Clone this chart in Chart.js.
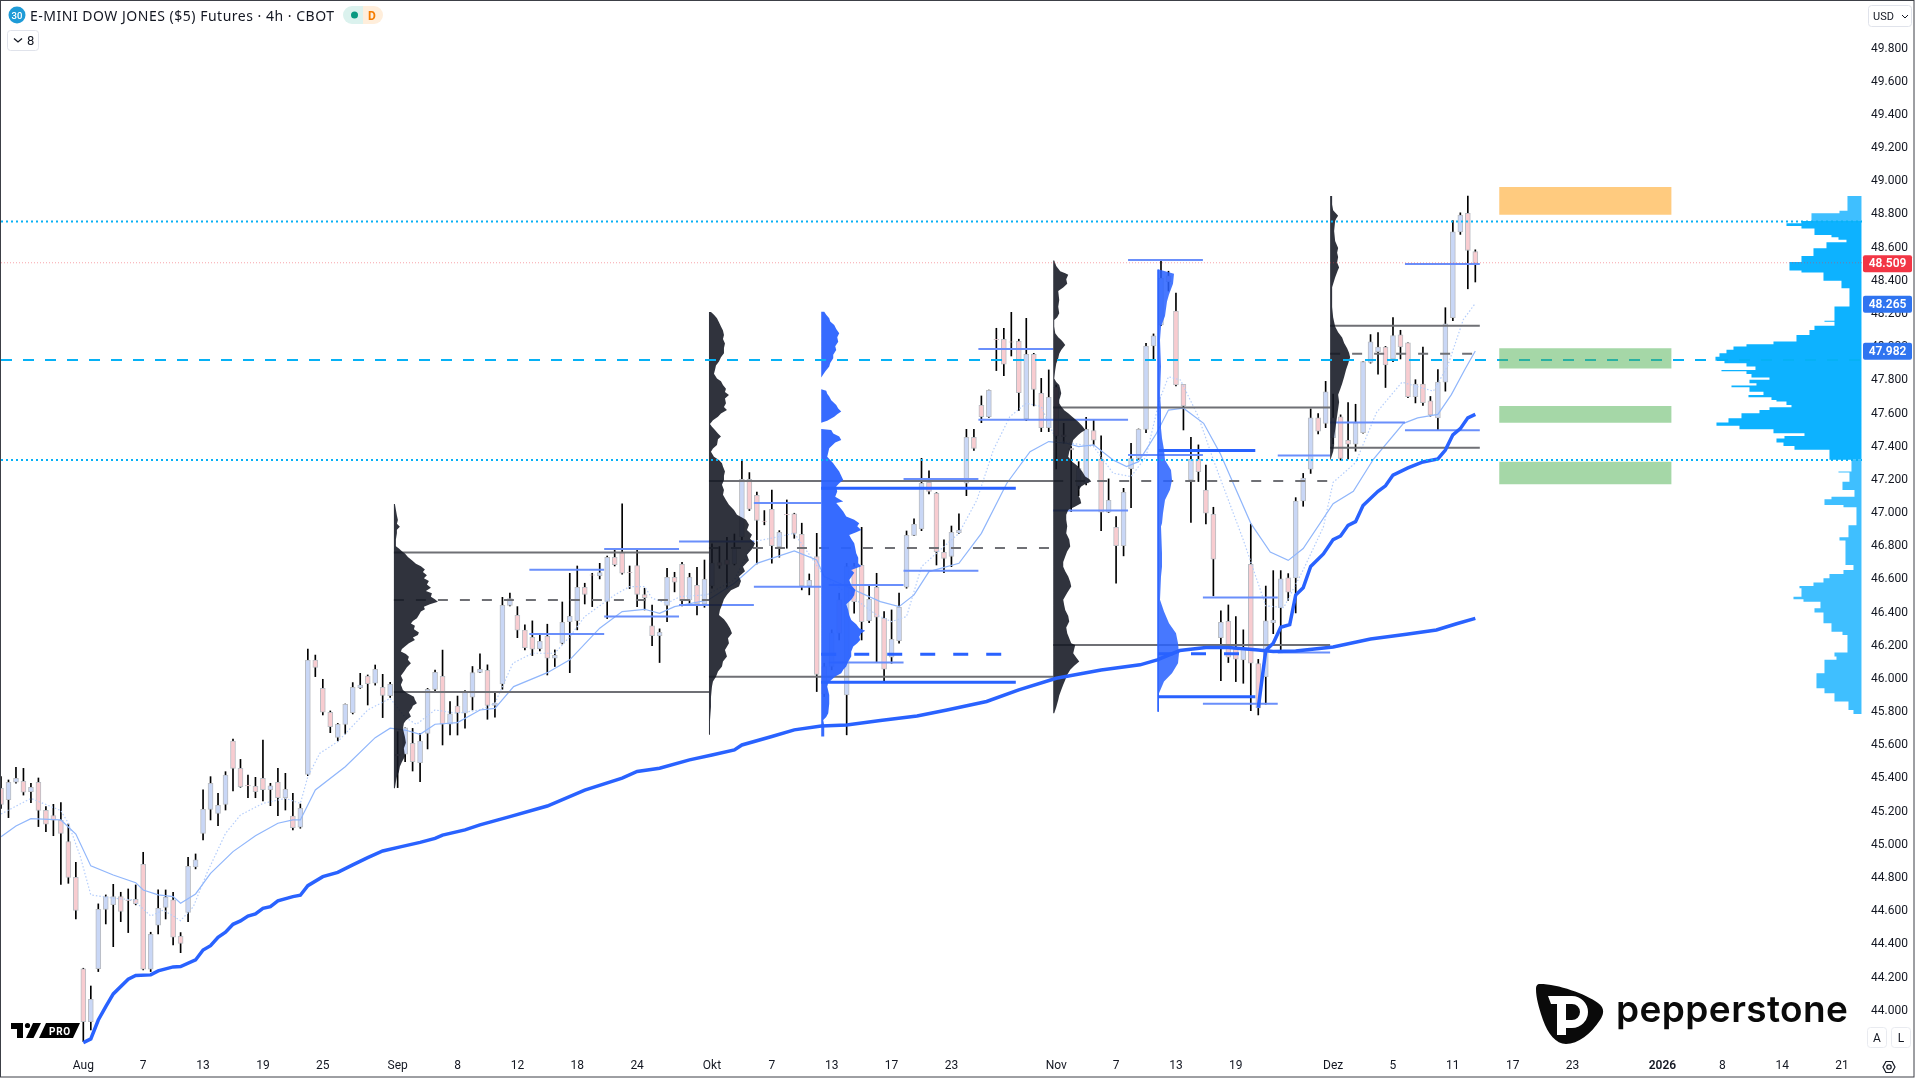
<!DOCTYPE html>
<html>
<head>
<meta charset="utf-8">
<title>E-MINI DOW JONES ($5) Futures</title>
<script src="https://cdn.jsdelivr.net/npm/chart.js@4/dist/chart.umd.min.js"></script>
<style>
html, body { margin: 0; padding: 0; background: #fff; }
#wrap { position: relative; width: 1915px; height: 1079px; overflow: hidden; }
#wrap canvas { position: absolute; left: 0; top: 0; }
#overlay { position: absolute; left: 0; top: 0; pointer-events: none; font-family: Roboto, sans-serif; }
</style>
</head>
<body>
<div id="wrap">
<canvas id="chart" width="1915" height="1079"></canvas>
<svg id="overlay" width="1915" height="1079" viewBox="0 0 1915 1079">
  <rect x="0.5" y="0.5" width="1913.5" height="1076.5" fill="none" stroke="#3c3f46"/>
  <!-- header -->
  <circle cx="17" cy="15" r="8.5" fill="#1e9bd7"/>
  <text x="17" y="18.5" font-size="9.5" font-weight="500" fill="#fff" text-anchor="middle">30</text>
  <text x="30" y="20.5" font-size="14" fill="#131722" textLength="304" font-family="'Noto Sans', sans-serif">E-MINI DOW JONES ($5) Futures · 4h · CBOT</text>
  <path d="M352 6H363V24H352A9 9 0 0 1 352 6Z" fill="#dbf2ee"/>
  <path d="M363 6H374A9 9 0 0 1 374 24H363Z" fill="#ffeedb"/>
  <circle cx="354.5" cy="15" r="3.5" fill="#089981"/>
  <text x="372" y="19.5" font-size="12" font-weight="700" fill="#f57c00" text-anchor="middle">D</text>
  <rect x="7.5" y="30.5" width="31" height="20" rx="3" fill="#fff" stroke="#e0e3eb"/>
  <path d="M14 38.5L18 42L22 38.5" fill="none" stroke="#131722" stroke-width="1.3"/>
  <text x="27" y="45" font-size="13" fill="#131722">8</text>
  <rect x="1868.5" y="5.5" width="43" height="21" rx="3" fill="#fff" stroke="#e0e3eb"/>
  <text x="1873" y="20" font-size="11" fill="#131722">USD</text>
  <path d="M1902 15L1905 18L1908 15" fill="none" stroke="#131722"/>
  <!-- tradingview pro mark -->
  <path d="M11 1023H23V1038H17V1029H11Z" fill="#000"/>
  <circle cx="27.5" cy="1025.5" r="2.6" fill="#000"/>
  <path d="M33 1023H41L33.5 1038H26Z" fill="#000"/>
  <path d="M46 1023H80L73 1038H39Z" fill="#000"/>
  <text x="60" y="1034.5" font-size="10" font-weight="700" letter-spacing="0.8" fill="#fff" text-anchor="middle">PRO</text>
  <!-- pepperstone -->
  <g transform="translate(1536 984)">
    <path d="M4 0C22 0 50 10 62 19C69 24 68 30 64 36C55 50 42 60 30 60C20 60 12 50 7 36C3 24 0 14 0 5C0 2 1 0 4 0Z" fill="#0a0a0a"/>
    <path fill-rule="evenodd" d="M12 12H36A16 16 0 0 1 36 44H30V51H21V20H15ZM30 20H36A8 8 0 0 1 36 36H30Z" fill="#fff"/>
  </g>
  <text x="1616" y="1022" font-family="Inter, sans-serif" font-weight="600" font-size="37" fill="#0a0a0a" textLength="232">pepperstone</text>
  <!-- scale buttons -->
  <rect x="1867.5" y="1027.5" width="19" height="20" rx="3" fill="#fff" stroke="#e9ebf0"/>
  <text x="1877" y="1042" font-size="12" fill="#131722" text-anchor="middle">A</text>
  <rect x="1891.5" y="1027.5" width="19" height="20" rx="3" fill="#fff" stroke="#e9ebf0"/>
  <text x="1901" y="1042" font-size="12" fill="#131722" text-anchor="middle">L</text>
  <path d="M1883 1067L1886 1061.5H1892L1895 1067L1892 1072.5H1886Z" fill="none" stroke="#131722" stroke-width="1.2"/>
  <circle cx="1889" cy="1067" r="2.2" fill="none" stroke="#131722" stroke-width="1.2"/>
</svg>
</div>
<script>
// ─── Candles, 4h bars, first bar is index -11 (Aug = 0) ───
const firstBar = -11;
const openPrices = [
  45341,45272,45377,45383,45321,45377,45208,45176,45148,45019,44804,
  44252,43934,44254,44611,44640,44688,44668,44672,44883,44250,
  44515,44623,44668,44449,44593,44867,45069,45214,45190,45244,
  45626,45461,45359,45353,45401,45333,45377,45284,45174,45106,
  45425,46114,45943,45799,45648,45726,45797,45947,46018,45974,
  45949,45899,45546,45546,45612,45495,45672,45937,46016,45728,
  45837,45793,45890,46040,46052,45840,45970,46444,46384,46294,
  46251,46183,46257,46125,46215,46346,46352,46553,46627,46623,
  46468,46733,46762,46643,46683,46509,46320,46261,46444,46613,
  46691,46476,46565,46452,46561,46702,46718,46693,46858,47204,
  47107,46951,47023,46798,46993,46995,46872,46561,46738,46075,
  46075,46477,45904,46677,46685,46352,46553,46366,46131,46231,
  46553,46866,46904,47186,47119,46764,46738,46882,47180,47457,
  47650,47581,48048,48048,48033,48035,47567,47957,47722,47515,
  47758,47471,47391,47164,47180,47497,47324,47005,46914,46804,
  47268,47330,47505,48007,48134,48430,48218,47776,47200,47324,
  47139,46993,46249,46348,46179,46115,46691,46092,46014,46340,
  46430,46609,46609,47073,47265,47574,47541,47455,47580,47438,
  47416,47485,47908,47973,48000,47929,48074,48027,47701,47778,
  47677,47574,47789,48178,48695,48807,48577
];
const highPrices = [
  45411,45391,45467,45461,45371,45403,45230,45244,45254,45126,44895,
  44256,44149,44644,44698,44762,44714,44734,44758,44955,44473,
  44728,44728,44714,44471,44925,44945,45331,45411,45311,45441,
  45638,45515,45421,45407,45632,45371,45461,45431,45311,45246,
  46180,46144,45998,45807,45732,45849,45978,46034,46024,46084,
  46028,45980,45682,45706,45702,45672,45943,46054,46174,45863,
  45897,45930,46075,46151,46085,45914,46492,46517,46436,46326,
  46350,46271,46330,46175,46464,46637,46681,46577,46637,46697,
  46741,46782,47055,46681,46788,46547,46446,46302,46667,46643,
  46703,46637,46673,46717,46814,46798,46854,46874,47324,47244,
  47127,47015,47139,46894,47079,46999,46939,46633,46878,46095,
  46296,46517,46697,46697,46914,46567,46637,46406,46416,46517,
  46892,46965,47330,47254,47123,46838,46922,46995,47505,47505,
  47706,47742,48114,48114,48210,48048,48174,47963,47812,47863,
  47772,47541,47401,47310,47577,47561,47465,47206,46979,47149,
  47421,47507,48023,48080,48523,48458,48326,47776,47457,47411,
  47290,47035,46410,46446,46376,46296,46934,46118,46560,46653,
  46653,46635,47093,47239,47628,47600,47794,47718,47592,47666,
  47656,47914,48076,48088,48005,48178,48102,48027,47804,48000,
  47703,47865,48238,48764,48810,48911,48587
];
const lowPrices = [
  45220,45164,45371,45300,45254,45110,45080,45055,44762,44768,44553,
  43814,43884,44236,44523,44386,44537,44471,44638,44246,44236,
  44463,44553,44396,44350,44537,44855,45029,45150,45116,45210,
  45325,45347,45284,45284,45264,45236,45176,45210,45090,45100,
  45417,46014,45783,45676,45626,45668,45789,45943,45843,45963,
  45767,45889,45345,45501,45445,45381,45578,45917,45602,45662,
  45662,45703,45813,46038,45757,45769,45938,46440,46249,46175,
  46141,46169,46024,46075,46211,46038,46296,46452,46436,46603,
  46364,46681,46631,46545,46436,46416,46201,46099,46346,46525,
  46440,46446,46386,46432,46547,46667,46547,46687,46838,47015,
  46693,46929,46698,46734,46788,46848,46537,46507,45924,45894,
  46055,46235,45663,46396,46235,46340,46099,45990,46095,46215,
  46547,46864,46894,47115,46687,46641,46677,46878,47105,47377,
  47545,47577,47859,47829,47947,47618,47557,47646,47491,47491,
  47266,47421,47009,47105,47170,47411,46894,47003,46577,46742,
  47033,47324,47485,47929,48130,48339,47766,47501,46943,47190,
  46935,46501,45990,46099,45984,45974,45809,45783,45848,46273,
  46172,46474,46398,47041,47239,47477,47515,47418,47319,47326,
  47373,47481,47904,47837,47757,47912,47929,47696,47664,47649,
  47584,47498,47735,48160,48680,48352,48393
];
const closePrices = [
  45244,45377,45401,45317,45347,45208,45124,45148,45069,44804,44605,
  43934,44069,44611,44688,44688,44599,44664,44646,44250,44461,
  44617,44684,44443,44406,44871,44909,45214,45371,45238,45421,
  45461,45351,45355,45321,45333,45355,45284,45335,45104,45220,
  46114,46070,45799,45712,45726,45847,45949,45963,45972,46058,
  45901,45968,45536,45706,45501,45626,45937,46040,45728,45789,
  45797,45920,46038,46058,45840,45854,46444,46484,46294,46189,
  46179,46227,46125,46143,46342,46378,46553,46509,46625,46641,
  46733,46689,46637,46641,46509,46490,46261,46281,46613,46583,
  46472,46613,46452,46601,46698,46685,46691,46792,47204,47023,
  46955,46949,46804,46884,46991,46878,46561,46595,46028,45910,
  46276,46276,46677,46466,46346,46480,46372,46059,46239,46432,
  46866,46932,47180,47131,46768,46726,46884,46896,47457,47389,
  47581,47740,48046,47897,48031,47726,47957,47746,47515,47698,
  47465,47461,47381,47270,47505,47439,47005,47077,46804,47125,
  47328,47505,48007,48068,48415,48395,47772,47646,47324,47250,
  46999,46722,46342,46131,46119,46179,46095,45826,46351,46355,
  46603,46523,47073,47211,47574,47494,47731,47574,47330,47416,
  47546,47914,48033,48000,47893,48070,48001,47701,47778,47666,
  47591,47789,48141,48695,48797,48583,48505
];

// ─── Moving averages (bar, price) ───
const slowMaBars = [-11,-9,-7,-3,-1,1,4,7,8,10,12,13,15,17,20,23,26,28,29,31,35,39,41,43,45,47,50,53,55,57.5,62,65,69,72,75,77,79,83.5,87,90,95,98,99,106.5,109,111,113,117,120,123.4,126.5,129,131.4,133,135,137.6,139.4,141,143.4,145,147,149.7,151.9,156,158.6,161,163,167,169.7,172.4,176.4,178.3,181,182.8,184.6,186];
const slowMaVals = [45049,45114,45158,45150,45065,44873,44818,44772,44728,44698,44688,44648,44704,44828,44959,45055,45130,45150,45150,45331,45471,45646,45703,45692,45666,45727,45737,45813,45823,45954,46038,46115,46306,46406,46420,46396,46436,46476,46577,46697,46772,46717,46617,46466,46436,46507,46647,46697,46878,47180,47370,47431,47421,47401,47411,47320,47280,47310,47481,47621,47632,47541,47360,46938,46765,46715,46786,47056,47131,47326,47541,47574,47595,47714,47865,47977];
const fastMaBars = [-11,-7,-3,-2,-0.4,1,4,6.7,9,10.7,13,14.7,16.5,19,21,24,27,29,30,31.6,34,38,41,43,44.5,47,50,53,55,57.4,60,63,65,67,71,73,75,76,78,79.7,83.3,87,89.5,91.9,95,97.5,99,106,108,110,112,114,117,119.4,121.6,123.8,126,128,130,132,135,137.6,140,142,143.8,145,146.6,149,151,155,158,160.4,163,165.7,167,170,172.8,176.2,180.4,182.3,184.4,186];
const fastMaVals = [45186,45280,45206,45130,44929,44698,44678,44668,44571,44607,44543,44627,44828,45069,45180,45250,45280,45250,45411,45552,45622,45813,45883,45769,45726,45813,45793,45813,45854,46095,46155,46155,46255,46376,46506,46557,46557,46486,46456,46496,46507,46597,46828,46848,46878,46718,46617,46386,46346,46376,46677,46758,46878,47079,47380,47581,47662,47642,47441,47421,47401,47240,47220,47340,47682,47822,47802,47581,47320,46838,46441,46430,46657,46916,47185,47304,47606,47789,47735,47886,48167,48264];

// ─── Anchored VWAPs ───
const vwapLongBars = [0,1,2,3,4,6,7,9,10,12,13,15,16,17,18,19,20,21,22,23,24,25,26,28,29,30,32,34,36,38,40,42.5,45,47,48,51,53,57,62,67,72,74,77,81,84,87,88,92,95,98.6,102,106.5,111.4,115.4,120.7,125,130,136,141.2,143.5,146.5,150,153,157,159,162,167,172,176.8,180.8,183.5,186];
const vwapLongVals = [43808,43830,43944,44025,44101,44190,44212,44216,44240,44264,44266,44306,44366,44392,44443,44473,44521,44541,44571,44583,44617,44627,44662,44688,44696,44754,44808,44834,44879,44923,44963,44989,45015,45039,45059,45090,45120,45170,45234,45330,45402,45442,45462,45512,45542,45572,45602,45653,45693,45717,45723,45749,45777,45813,45864,45934,46004,46054,46085,46115,46171,46189,46189,46175,46165,46169,46193,46241,46269,46295,46333,46365];
const vwapShortBars = [157,158,159,160,161.2,162,163,164,165.7,167,168,169,170,171,173,174,175,177,179,181,182,183,184,185,186];
const vwapShortVals = [45826,46172,46215,46312,46327,46506,46549,46678,46754,46840,46862,46926,46948,47045,47131,47164,47229,47272,47308,47326,47380,47472,47509,47574,47595];

// ─── Session volume profiles (price rows, volume per row) ───
const darkAPrices = [47055,47020,46985,46958,46935,46918,46900,46878,46840,46800,46787,46770,46757,46735,46715,46695,46680,46660,46645,46625,46607,46590,46570,46550,46530,46516,46495,46480,46466,46450,46436,46420,46406,46385,46366,46350,46335,46320,46300,46280,46265,46250,46235,46215,46195,46180,46165,46150,46134,46115,46094,46070,46044,46020,45994,45965,45934,45915,45893,45875,45853,45838,45823,45800,45773,45750,45733,45700,45652,45615,45582,45532,45500,45472,45440,45411,45380,45341];
const darkAVols = [1,2,3,4,3,6,3,3,2,2,5,8,11,14,18,22,27,31,29,33,30,35,33,37,32,38,37,41,44,36,30,31,27,25,23,19,17,21,20,25,24,19,21,15,11,8,7,12,15,14,17,13,10,7,9,7,9,13,20,21,23,19,18,15,17,12,10,9,11,12,10,11,8,6,5,3,2,1];
const darkBPrices = [48212,48195,48174,48150,48124,48100,48074,48050,48023,47995,47963,47940,47913,47890,47863,47840,47812,47795,47772,47750,47730,47712,47690,47662,47640,47622,47600,47581,47560,47537,47520,47501,47480,47461,47445,47411,47390,47370,47340,47320,47300,47280,47250,47225,47200,47170,47139,47110,47079,47050,47019,46990,46959,46930,46898,46870,46845,46818,46790,46748,46715,46677,46650,46617,46590,46557,46535,46507,46480,46446,46415,46386,46360,46336,46305,46275,46245,46215,46175,46135,46105,46075,46045,46014,45985,45954,45890,45833,45750,45663];
const darkBVols = [2,5,8,10,12,14,15,14,16,15,15,12,10,7,6,5,8,12,14,17,16,20,16,17,15,18,12,9,4,1,3,6,9,12,9,8,4,2,5,10,13,14,16,15,15,13,15,14,17,20,25,28,37,40,38,43,41,46,44,38,40,34,36,30,32,30,22,18,15,13,11,10,15,18,21,23,19,20,16,18,14,13,9,7,4,3,2,2,1,1];
const blueAPrices = [48214,48195,48174,48155,48134,48110,48084,48060,48033,48005,47983,47955,47933,47905,47883,47853,47827,47818,47746,47738,47720,47702,47680,47652,47630,47612,47595,47581,47557,47545,47507,47501,47480,47461,47441,47425,47391,47365,47340,47320,47300,47275,47250,47225,47200,47180,47160,47130,47099,47070,47060,47039,47010,46979,46960,46939,46920,46898,46885,46868,46845,46818,46790,46758,46730,46697,46680,46657,46640,46597,46565,46537,46505,46477,46450,46416,46385,46356,46330,46306,46290,46276,46255,46235,46215,46195,46165,46135,46105,46075,46055,46035,46015,45994,45975,45954,45904,45850,45793,45770,45753,45720,45653];
const blueAVols = [3,5,8,9,13,15,18,16,17,14,15,12,12,9,8,4,1,0,0,5,6,8,10,15,17,20,16,13,6,0,0,10,12,18,20,14,8,7,6,9,12,15,18,20,22,18,15,16,14,22,15,18,22,25,33,38,36,40,35,28,30,33,34,35,37,37,40,30,33,28,30,34,33,30,25,27,28,30,35,38,44,40,38,39,36,32,30,30,27,25,22,20,14,10,7,6,8,8,7,5,2,3,3];
const darkCPrices = [48523,48490,48458,48445,48436,48410,48382,48360,48339,48285,48244,48204,48180,48164,48124,48084,48060,48044,48030,48013,47998,47983,47960,47933,47900,47863,47812,47790,47772,47750,47722,47700,47682,47662,47642,47620,47602,47580,47551,47525,47501,47486,47471,47441,47420,47401,47370,47340,47310,47280,47250,47220,47205,47190,47175,47160,47135,47109,47085,47059,47040,47019,46990,46959,46920,46878,46840,46798,46770,46738,46705,46677,46650,46617,46585,46557,46520,46477,46445,46416,46380,46346,46310,46276,46245,46215,46205,46180,46155,46130,46105,46080,46055,46025,45994,45965,45934,45900,45873,45830,45793];
const darkCVols = [1,3,7,12,15,13,14,10,5,6,5,6,4,1,1,2,5,8,10,12,10,8,6,5,3,2,1,3,6,7,8,7,6,6,8,11,15,19,25,29,32,28,25,20,19,18,16,15,19,25,29,32,36,38,32,28,25,25,27,28,22,15,13,13,14,13,16,17,14,12,10,10,12,15,17,18,14,10,11,12,15,16,13,14,16,18,22,21,20,23,26,21,17,14,12,10,8,6,5,3,1];
const blueBPrices = [48469,48443,48382,48318,48275,48188,48124,48044,47883,47722,47622,47511,47451,47381,47320,47260,47200,47140,47079,46999,46939,46919,46758,46677,46617,46477,46406,46336,46276,46215,46155,46095,46035,45984,45914,45803];
const blueBVols = [1,16,15,11,9,7,3,2,3,2,3,3,4,6,7,13,14,12,7,5,4,3,4,4,3,2,6,11,18,20,21,20,14,6,1,1];
const darkDPrices = [48911,48860,48825,48792,48775,48760,48700,48640,48598,48570,48544,48510,48480,48469,48420,48361,48300,48242,48180,48124,48090,48059,48025,47994,47965,47940,47900,47865,47820,47779,47745,47714,47670,47628,47585,47541,47500,47455,47410,47369,47315];
const darkDVols = [2,2,3,8,6,5,4,5,8,7,8,7,9,8,5,2,2,2,3,5,8,12,14,17,19,20,18,16,14,12,10,8,9,8,7,6,5,4,4,3,0];

// ─── Visible range volume profile, right side: each row ends at its price ───
const rangeTopPrices = [48912,48823,48807,48761];
const rangeTopVols = [14,14,22,50];
const rangeMidPrices = [48761,48747,48731,48715,48677,48663,48647,48633,48596,48550,48514,48462,48450,48401,48355,48245,48160,48154,48130,48104,48074,48034,48018,48004,47984,47964,47943,47919,47903,47883,47863,47855,47839,47817,47803,47783,47769,47759,47732,47712,47698,47682,47672,47652,47638,47622,47602,47572,47546,47526,47505,47481,47465,47449,47425,47405,47381,47321];
const rangeMidVols = [60,60,75,60,47,30,23,15,35,48,60,72,60,38,20,12,27,37,27,47,52,65,88,115,128,135,142,146,137,115,106,140,115,110,92,112,105,130,112,98,113,90,85,75,70,92,102,120,133,145,122,88,57,77,85,78,67,32];
const rangeLowPrices = [47320,47250,47244,47189,47139,47099,47083,47049,47035,46938,46926,46854,46834,46687,46657,46633,46607,46581,46561,46547,46496,46480,46466,46426,46400,46336,46285,46265,46159,46135,46115,46034,45944,45914,45864,45813,45789];
const rangeLowVols = [10,10,23,12,19,7,30,37,18,5,5,13,22,16,8,18,32,38,48,62,60,68,58,41,47,38,30,19,14,27,25,37,45,37,27,13,8];

// ─── Profile levels: [from bar], [to bar], [price] ───
const vaFrom = [41.5,41.5,83.6,83.6,129.6,129.6,166.6,166.6];
const vaTo = [83.6,83.6,129.6,129.6,166.6,166.6,186.6,186.6];
const vaPrices = [46762,45922,47194,46014,47636,46205,48130,47394];
const pocFrom = [41.5,83.6,129.6,166.6];
const pocTo = [83.6,129.6,166.6,186.6];
const pocPrices = [46476,46790,47194,47960];
const thinFrom = [59.6,59.6,69.6,69.6,79.6,79.6,89.6,89.6,99.6,99.6,109.6,109.6,119.6,119.6,129.6,129.6,139.6,139.6,149.6,149.6,159.6,159.6,166.6,176.6,176.6];
const thinTo = [69.6,69.6,79.6,79.6,89.6,89.6,98.6,98.6,109.6,109.6,119.6,119.6,129.6,129.6,139.6,139.6,149.6,149.6,159.6,159.6,166.6,166.6,176.6,186.6,186.6];
const thinPrices = [46659,46271,46784,46376,46828,46446,47061,46556,46567,46099,47206,46653,47989,47563,47563,47015,48525,47350,46491,45850,47347,46159,47546,48501,47500];
const thickFrom = [98.6,98.6,143.6,143.6];
const thickTo = [124.6,124.6,156.6,156.6];
const thickPrices = [47149,45980,47377,45893];
const thickDashFrom = [98.6,143.6];
const thickDashTo = [124.6,156.6];
const thickDashPrices = [46149,46152];

// ─── Drawn levels and zones ───
const dottedLevels = [48757,47320];
const dashedLevel = 47923;
const lastPrice = 48509;
const zoneFrom = [189.2,189.2,189.2,189.2];
const zoneTo = [212.2,212.2,212.2,212.2];
const zoneHigh = [48966,47993,47646,47310];
const zoneLow = [48799,47871,47545,47174];

// ─── Axes ───
const timeTickBars = [0,8,16,24,32,42,50,58,66,74,84,92,100,108,116,130,138,146,154,167,175,183,191,199,211,219,227,235];
const timeTickLabels = ['Aug','7','13','19','25','Sep','8','12','18','24','Okt','7','13','17','23','Nov','7','13','19','Dez','5','11','17','23','2026','8','14','21'];
const priceTicks = [49800,49600,49400,49200,49000,48800,48600,48400,48200,48000,47800,47600,47400,47200,47000,46800,46600,46400,46200,46000,45800,45600,45400,45200,45000,44800,44600,44400,44200,44000];
const priceTags = [48509,48265,47982];
const priceTagColors = ['#f23645','#2f74f0','#2f74f0'];

const barPx = 7.484;
const bars = openPrices.map((_, i) => i + firstBar);

const PINK = '#f8ccd0', BLUE = '#c9d7f6', EDGE = '#b9bcc2';
const PROFILE_DARK = 'rgba(19,23,34,0.88)';
const PROFILE_BLUE = 'rgba(41,98,255,0.94)';

function lineSet(data, opts) {
    return Object.assign({ type: 'scatter', data, showLine: true, pointRadius: 0, borderWidth: 1, fill: false, tension: 0 }, opts);
}
function zip(xs, ys) {
    return xs.map((x, i) => ({ x, y: ys[i] }));
}
function segments(from, to, prices) {
    const out = [];
    prices.forEach((p, i) => {
        out.push({ x: from[i], y: p }, { x: to[i], y: p }, { x: null, y: null });
    });
    return out;
}
// closed polygon, volume rows grow from the base bar
function profile(base, dir, prices, vols, color, order, stepped) {
    const pts = [{ x: base, y: prices[0] }];
    prices.forEach((p, i) => pts.push({ x: base + dir * vols[i] / barPx, y: p }));
    pts.push({ x: base, y: prices[prices.length - 1] });
    return lineSet(pts, { stepped: !!stepped, borderWidth: 0, fill: 'shape', backgroundColor: color, order });
}

const xEnd = 237.67;
const datasets = [
    // wicks behind bodies
    { type: 'bar', data: bars.map((x, i) => ({ x, y: [lowPrices[i], highPrices[i]] })), backgroundColor: '#000', barThickness: 1, grouped: false, order: 90 },
    { type: 'bar', data: bars.map((x, i) => ({ x, y: [openPrices[i], closePrices[i]] })),
      backgroundColor: bars.map((_, i) => closePrices[i] < openPrices[i] ? PINK : BLUE),
      borderColor: EDGE, borderWidth: 1, borderSkipped: false, barThickness: 5, grouped: false, order: 80 },
    lineSet(zip(slowMaBars, slowMaVals), { borderColor: '#90b6fb', borderWidth: 1.2, order: 70 }),
    lineSet(zip(fastMaBars, fastMaVals), { borderColor: '#b4cdfb', borderWidth: 1.2, borderDash: [1.5, 2], order: 70 }),
    lineSet(segments(vaFrom, vaTo, vaPrices), { borderColor: '#6f7075', borderWidth: 2, order: 60 }),
    lineSet(segments(pocFrom, pocTo, pocPrices), { borderColor: '#6f7075', borderWidth: 2, borderDash: [10, 12], order: 60 }),
    lineSet(segments(thinFrom, thinTo, thinPrices), { borderColor: '#6a8ffb', borderWidth: 2, order: 60 }),
    profile(41.5, 1, darkAPrices, darkAVols, PROFILE_DARK, 50),
    profile(83.6, 1, darkBPrices, darkBVols, PROFILE_DARK, 50),
    profile(98.6, 1, blueAPrices, blueAVols, PROFILE_BLUE, 50),
    profile(129.6, 1, darkCPrices, darkCVols, PROFILE_DARK, 50),
    profile(143.6, 1, blueBPrices, blueBVols, 'rgba(41,98,255,0.86)', 50),
    profile(166.6, 1, darkDPrices, darkDVols, PROFILE_DARK, 50),
    lineSet(zip([143.6, 143.6], [45803, 48469]), { borderColor: '#2962ff', borderWidth: 1.5, order: 49 }),
    profile(237.6, -1, rangeTopPrices, rangeTopVols, '#3fbfff', 50, true),
    profile(237.6, -1, rangeMidPrices, rangeMidVols, '#0db2ff', 50, true),
    profile(237.6, -1, rangeLowPrices, rangeLowVols, '#3fbfff', 50, true),
    lineSet(segments(thickFrom, thickTo, thickPrices), { borderColor: '#2962ff', borderWidth: 3, order: 45 }),
    lineSet(segments(thickDashFrom, thickDashTo, thickDashPrices), { borderColor: '#2962ff', borderWidth: 3, borderDash: [15, 18], order: 45 }),
    lineSet(zip(vwapLongBars, vwapLongVals), { borderColor: '#2962ff', borderWidth: 3.5, order: 40 }),
    lineSet(zip(vwapShortBars, vwapShortVals), { borderColor: '#2962ff', borderWidth: 3.5, order: 40 }),
    lineSet([{ x: -11, y: lastPrice }, { x: xEnd, y: lastPrice }], { borderColor: 'rgba(242,54,69,0.45)', borderWidth: 1, borderDash: [1, 2], order: 35 }),
    lineSet(segments([-11, -11], [xEnd, xEnd], dottedLevels), { borderColor: '#06b1f5', borderWidth: 2, borderDash: [2, 3], order: 30 }),
    lineSet([{ x: -11, y: dashedLevel }, { x: xEnd, y: dashedLevel }], { borderColor: '#06b1f5', borderWidth: 2, borderDash: [11, 11], order: 30 })
];
zoneHigh.forEach((h, i) => {
    const pts = [{ x: zoneFrom[i], y: h }, { x: zoneTo[i], y: h }, { x: zoneTo[i], y: zoneLow[i] }, { x: zoneFrom[i], y: zoneLow[i] }];
    datasets.push(lineSet(pts, { borderWidth: 0, fill: 'shape', backgroundColor: i === 0 ? 'rgba(255,152,0,0.5)' : 'rgba(76,175,80,0.5)', order: 20 }));
});

// price tags sit on top of the axis labels
const priceTagPlugin = {
    id: 'priceTags',
    afterDraw(chart) {
        const { ctx, scales } = chart;
        priceTags.forEach((p, i) => {
            const y = scales.y.getPixelForValue(p) + 1;
            ctx.save();
            ctx.fillStyle = priceTagColors[i];
            ctx.beginPath();
            ctx.roundRect(1863, y - 8.5, 49, 17, 2);
            ctx.fill();
            ctx.fillStyle = '#fff';
            ctx.font = '600 12px Roboto, sans-serif';
            ctx.textAlign = 'center';
            ctx.textBaseline = 'middle';
            ctx.fillText(p.toLocaleString('de-DE'), 1887.5, y + 0.5);
            ctx.restore();
        });
    }
};

new Chart(document.getElementById('chart'), {
    type: 'scatter',
    data: { datasets },
    plugins: [priceTagPlugin],
    options: {
        responsive: false,
        animation: false,
        devicePixelRatio: 1,
        layout: { padding: { left: 1, top: 1, right: 2, bottom: 2 } },
        plugins: { legend: { display: false }, tooltip: { enabled: false } },
        scales: {
            x: {
                type: 'linear', min: -11, max: xEnd, offset: false,
                grid: { display: false, drawTicks: false }, border: { display: false },
                afterBuildTicks: s => { s.ticks = timeTickBars.map(value => ({ value })); },
                afterFit: s => { s.height = 22; s.paddingLeft = 0; s.paddingRight = 0; },
                ticks: {
                    autoSkip: false, maxRotation: 0, padding: 4, color: '#131722',
                    font: c => ({ family: 'Roboto, sans-serif', size: 12, weight: timeTickLabels[c.index] === '2026' ? 600 : 400 }),
                    callback: (v, i) => timeTickLabels[i]
                }
            },
            y: {
                type: 'linear', position: 'right', min: 43733, max: 50087,
                grid: { display: false, drawTicks: false }, border: { display: false },
                afterBuildTicks: s => { s.ticks = priceTicks.map(value => ({ value })); },
                afterFit: s => { s.width = 51; s.paddingTop = 0; s.paddingBottom = 0; },
                ticks: {
                    autoSkip: false, padding: 9, color: '#131722',
                    font: { family: 'Roboto, sans-serif', size: 12 },
                    callback: v => v.toLocaleString('de-DE')
                }
            }
        }
    }
});
</script>
</body>
</html>
